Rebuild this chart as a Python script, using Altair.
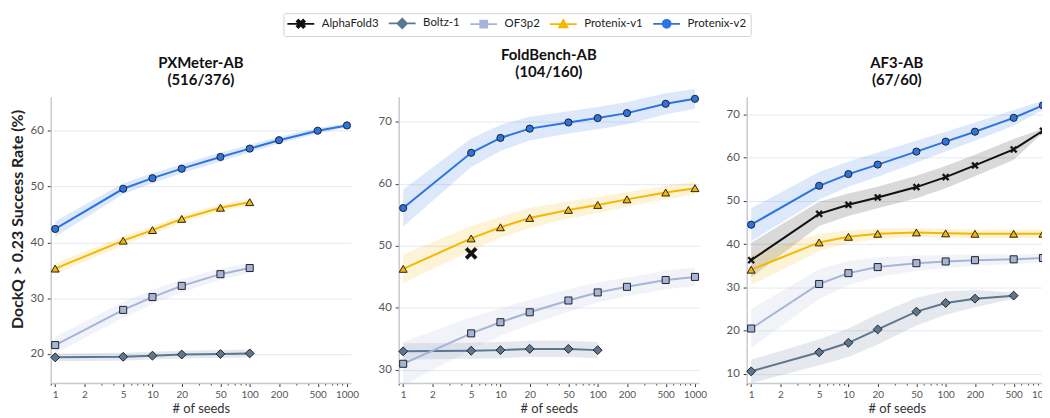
import altair as alt
import pandas as pd

# ---------------- data ----------------
MODELS = ["AlphaFold3", "Boltz-1", "OF3p2", "Protenix-v1", "Protenix-v2"]
COLORS = ["#111111", "#5d7691", "#a5b5da", "#f5b700", "#2b74e2"]

PANELS = ["PXMeter-AB", "FoldBench-AB", "AF3-AB"]
PANEL_COUNTS = ["(516/376)", "(104/160)", "(67/60)"]
Y_DOMAINS = [[14.8, 66.1], [27.9, 74.05], [7.9, 74.1]]
Y_TICKS = [[20, 30, 40, 50, 60], [30, 40, 50, 60, 70], [10, 20, 30, 40, 50, 60, 70]]
X_DOMAIN = [0.9, 1100]
MAJOR_TICKS = [1, 2, 5, 10, 20, 50, 100, 200, 500, 1000]
MINOR_TICKS = [0.9, 3, 4, 6, 7, 8, 9, 30, 40, 60, 70, 80, 90, 300, 400, 600, 700, 800, 900]

SEEDS_ALL = [1, 5, 10, 20, 50, 100, 200, 500, 1000]
SEEDS_100 = [1, 5, 10, 20, 50, 100]
SEEDS_500 = [1, 5, 10, 20, 50, 100, 200, 500]

# PXMeter-AB
px_boltz = [19.4, 19.5, 19.7, 19.9, 20.0, 20.1]
px_boltz_ci = [0.7, 0.7, 0.7, 0.7, 0.7, 0.7]
px_of3 = [21.6, 27.9, 30.2, 32.2, 34.3, 35.4]
px_of3_ci = [1.5, 1.4, 1.3, 1.2, 1.0, 0.9]
px_v1 = [35.3, 40.3, 42.2, 44.2, 46.2, 47.2]
px_v1_ci = [1.0, 0.8, 0.7, 0.7, 0.6, 0.6]
px_v2 = [42.4, 49.6, 51.5, 53.2, 55.3, 56.8, 58.3, 60.0, 60.95]
px_v2_ci = [1.4, 1.0, 0.9, 0.8, 0.8, 0.7, 0.6, 0.5, 0.4]

# FoldBench-AB
fb_af3 = [48.8]
fb_af3_ci = [0.0]
fb_boltz = [33.0, 33.1, 33.2, 33.4, 33.4, 33.2]
fb_boltz_ci = [1.3, 1.3, 1.3, 1.3, 1.3, 1.3]
fb_of3 = [31.0, 35.9, 37.7, 39.3, 41.2, 42.5, 43.4, 44.5, 45.0]
fb_of3_ci = [3.5, 2.6, 2.2, 2.0, 1.8, 1.6, 1.5, 1.5, 1.5]
fb_v1 = [46.3, 51.2, 53.0, 54.5, 55.8, 56.6, 57.5, 58.6, 59.3]
fb_v1_ci = [2.3, 2.0, 1.7, 1.6, 1.4, 1.3, 1.2, 1.1, 1.0]
fb_v2 = [56.1, 65.0, 67.4, 68.9, 69.9, 70.6, 71.4, 72.9, 73.7]
fb_v2_ci = [3.0, 2.3, 2.1, 1.9, 1.8, 1.8, 1.8, 1.7, 1.6]

# AF3-AB
af_af3 = [36.3, 47.0, 49.1, 50.8, 53.2, 55.5, 58.2, 61.9, 66.2]
af_af3_ci = [4.0, 2.8, 2.6, 2.5, 2.6, 2.6, 2.5, 2.4, 0.5]
af_boltz = [10.6, 15.0, 17.2, 20.3, 24.4, 26.4, 27.4, 28.1]
af_boltz_ci = [2.7, 3.0, 3.3, 3.5, 3.2, 2.7, 2.0, 0.7]
af_of3 = [20.5, 30.8, 33.3, 34.7, 35.6, 36.0, 36.3, 36.5, 36.8]
af_of3_ci = [4.5, 3.4, 2.8, 2.3, 1.8, 1.5, 1.3, 1.1, 1.0]
af_v1 = [34.1, 40.4, 41.7, 42.4, 42.7, 42.5, 42.4, 42.4, 42.4]
af_v1_ci = [3.5, 2.0, 1.5, 1.2, 1.0, 1.0, 1.0, 1.0, 1.0]
af_v2 = [44.5, 53.5, 56.2, 58.4, 61.4, 63.7, 66.0, 69.2, 72.1]
af_v2_ci = [3.8, 3.2, 2.9, 2.8, 2.5, 2.3, 2.1, 1.8, 1.0]

SERIES = [
    ("PXMeter-AB", "Boltz-1", SEEDS_100, px_boltz, px_boltz_ci),
    ("PXMeter-AB", "OF3p2", SEEDS_100, px_of3, px_of3_ci),
    ("PXMeter-AB", "Protenix-v1", SEEDS_100, px_v1, px_v1_ci),
    ("PXMeter-AB", "Protenix-v2", SEEDS_ALL, px_v2, px_v2_ci),
    ("FoldBench-AB", "AlphaFold3", [5], fb_af3, fb_af3_ci),
    ("FoldBench-AB", "Boltz-1", SEEDS_100, fb_boltz, fb_boltz_ci),
    ("FoldBench-AB", "OF3p2", SEEDS_ALL, fb_of3, fb_of3_ci),
    ("FoldBench-AB", "Protenix-v1", SEEDS_ALL, fb_v1, fb_v1_ci),
    ("FoldBench-AB", "Protenix-v2", SEEDS_ALL, fb_v2, fb_v2_ci),
    ("AF3-AB", "AlphaFold3", SEEDS_ALL, af_af3, af_af3_ci),
    ("AF3-AB", "Boltz-1", SEEDS_500, af_boltz, af_boltz_ci),
    ("AF3-AB", "OF3p2", SEEDS_ALL, af_of3, af_of3_ci),
    ("AF3-AB", "Protenix-v1", SEEDS_ALL, af_v1, af_v1_ci),
    ("AF3-AB", "Protenix-v2", SEEDS_ALL, af_v2, af_v2_ci),
]

rows = []
for panel_name, model, seeds, vals, cis in SERIES:
    for s, v, c in zip(seeds, vals, cis):
        rows.append({"panel": panel_name, "model": model, "seeds": s,
                     "val": v, "lo": v - c, "hi": v + c})
df = pd.DataFrame(rows)

# ---------------- styles ----------------
X_PATH = "M-0.6,-1L0,-0.4L0.6,-1L1,-0.6L0.4,0L1,0.6L0.6,1L0,0.4L-0.6,1L-1,0.6L-0.4,0L-1,-0.6Z"
PLOT_SHAPES = [X_PATH, "diamond", "square", "triangle-up", "circle"]
PLOT_SIZES = [50, 80, 50, 64, 52]

# legend glyphs: a short line with the marker in its middle (unit = 5 px)
LEGEND_SHAPES = [
    "M-2.7,0L2.7,0M-0.48,-0.8L0,-0.32L0.48,-0.8L0.8,-0.48L0.32,0L0.8,0.48L0.48,0.8L0,0.32L-0.48,0.8L-0.8,0.48L-0.32,0L-0.8,-0.48Z",
    "M-2.7,0L-0.95,0M0.95,0L2.7,0M0,-0.95L0.95,0L0,0.95L-0.95,0Z",
    "M-2.7,0L-0.7,0M0.7,0L2.7,0M-0.7,-0.7L0.7,-0.7L0.7,0.7L-0.7,0.7Z",
    "M-2.7,0L-0.5,0M0.5,0L2.7,0M0,-0.85L0.85,0.65L-0.85,0.65Z",
    "M-2.7,0L-0.8,0M0.8,0L2.7,0M-0.8,0A0.8,0.8,0,1,1,0.8,0A0.8,0.8,0,1,1,-0.8,0Z",
]

Y_TITLE = "DockQ > 0.23 Success Rate (%)"

# colour scale for the plotted marks (domain listed in reverse so that its
# legend-less guide is not merged with the real legend below)
cscale = alt.Scale(domain=MODELS[::-1], range=COLORS[::-1])
tick_test = "indexof(" + str(MAJOR_TICKS) + ", datum.value) >= 0"

xaxis = alt.Axis(
    values=MAJOR_TICKS + MINOR_TICKS,
    labelExpr=tick_test + " ? format(datum.value, 'd') : ''",
    tickSize={"condition": {"test": tick_test, "value": 3.5}, "value": 2},
    grid=False, labelFontSize=10, labelFlush=False, labelOverlap=False,
    labelPadding=3, title="# of seeds", titleFontSize=13, titleFontWeight="normal",
    titlePadding=3, titleColor="#333",
)

legend = alt.Legend(
    orient="none", legendX=234, legendY=-84, direction="horizontal",
    gridAlign="each", title=None, labelFont="Lato", labelFontSize=11.5,
    labelColor="#222", symbolSize=100, symbolStrokeWidth=1.8, symbolOffset=7.5,
    symbolFillColor="#888888", symbolStrokeColor="#888888",
    labelOffset=15, columnPadding=6, padding=4, strokeColor="#cfd3da",
    fillColor="white", cornerRadius=2,
)


def panel(i):
    name = PANELS[i]
    d = df[df.panel == name]
    xscale = alt.Scale(type="log", domain=X_DOMAIN, nice=False)
    yscale = alt.Scale(domain=Y_DOMAINS[i], nice=False, zero=False)
    if i == 0:
        yaxis = alt.Axis(
            values=Y_TICKS[i], title=Y_TITLE, labelFontSize=11.5,
            labelPadding=4, labelFlush=False, titleFontSize=16, titleFontWeight="bold",
            titleColor="#222", titleX=-25, titleY=123, titleAngle=270,
            titleAlign="center", titleBaseline="bottom", grid=True,
        )
    else:
        yaxis = alt.Axis(
            values=Y_TICKS[i], title="", labelFontSize=11.5,
            labelPadding=4, labelFlush=False, grid=True,
        )
    xenc = alt.X("seeds:Q", scale=xscale, axis=xaxis)
    yenc = alt.Y("val:Q", scale=yscale, axis=yaxis)

    layers = []
    band = alt.Chart(d).mark_area(opacity=0.16).encode(
        x=xenc, y=alt.Y("lo:Q", scale=yscale, axis=yaxis), y2="hi:Q",
        color=alt.Color("model:N", scale=cscale, legend=None),
    )
    layers.append(band)
    line = alt.Chart(d).mark_line(strokeWidth=2).encode(
        x=xenc, y=yenc, color=alt.Color("model:N", scale=cscale, legend=None),
    )
    layers.append(line)
    for m, shp, sz in zip(MODELS, PLOT_SHAPES, PLOT_SIZES):
        dm = d[d.model == m]
        if len(dm) == 0:
            continue
        size = sz
        if m == "AlphaFold3" and len(dm) == 1:
            size = 150
        layers.append(
            alt.Chart(dm).mark_point(
                shape=shp, filled=True, size=size, stroke="#222",
                strokeWidth=1 if m != "AlphaFold3" else 0.5, opacity=1,
            ).encode(x=xenc, y=yenc,
                     color=alt.Color("model:N", scale=cscale, legend=None))
        )
    if i == 0:
        leg_df = pd.DataFrame({"model": MODELS, "seeds": [None] * 5, "val": [None] * 5})
        layers.append(
            alt.Chart(leg_df).mark_point(filled=True, opacity=0).encode(
                x=xenc, y=yenc,
                shape=alt.Shape("model:N", scale=alt.Scale(domain=MODELS, range=LEGEND_SHAPES), legend=legend),
                fill=alt.Fill("model:N", scale=alt.Scale(domain=MODELS, range=COLORS), legend=legend),
                stroke=alt.Stroke("model:N", scale=alt.Scale(domain=MODELS, range=COLORS), legend=legend),
            )
        )
    return alt.layer(*layers).properties(
        width=302, height=288,
        title=alt.Title(text=[name, PANEL_COUNTS[i]]),
    )


chart = alt.HConcatChart(
    hconcat=[panel(0), panel(1), panel(2)], spacing=48, bounds="flush",
).properties(
    padding={"left": 1, "top": 3, "right": -13, "bottom": 0},
).configure(font="Lato").configure_view(strokeOpacity=0).configure_axis(
    domainColor="#c6cbd4", domainWidth=1.5, tickColor="#333", tickWidth=1,
    tickSize=3.5, labelColor="#555", labelFont="Lato", titleFont="Lato",
    gridColor="#e4e9f1", gridWidth=1,
).configure_title(
    font="Lato", fontSize=15, fontWeight="bold", color="#111", offset=9,
    lineHeight=17, anchor="middle",
)

chart.save("out.html", embed_options={"renderer": "svg", "actions": False})
